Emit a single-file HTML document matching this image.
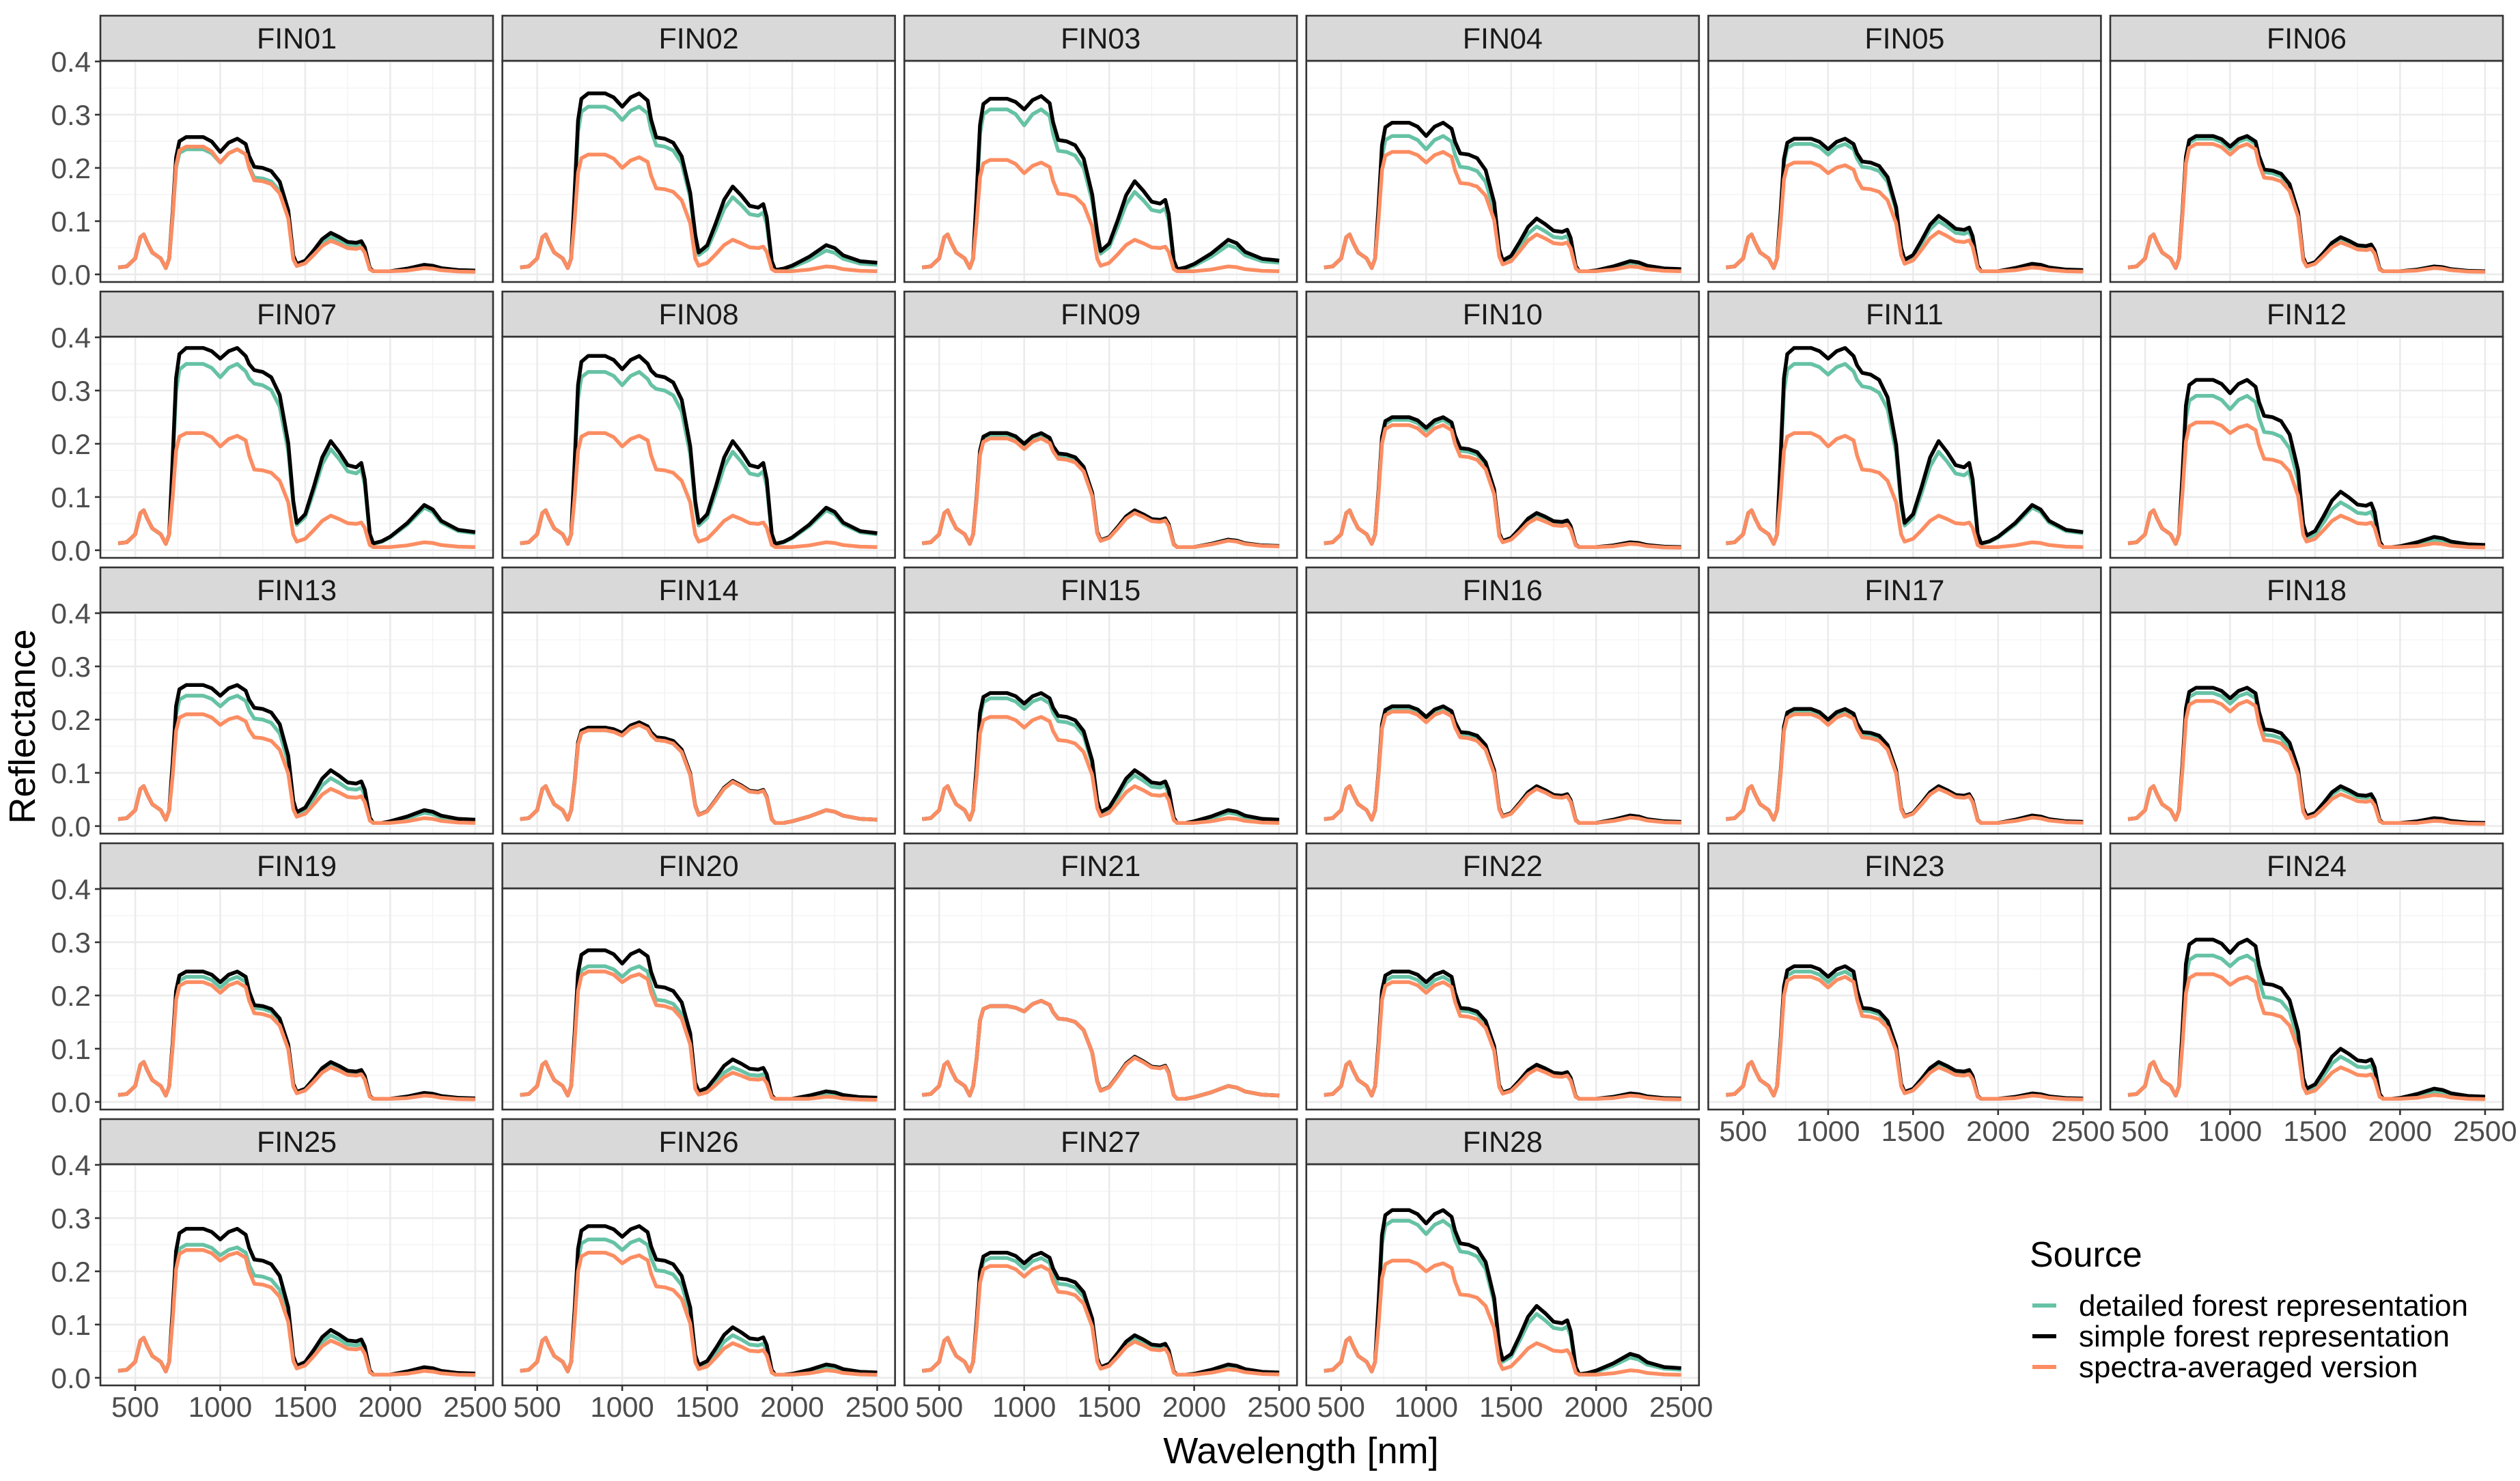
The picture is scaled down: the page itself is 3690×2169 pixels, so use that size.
<!DOCTYPE html>
<html><head><meta charset="utf-8"><style>
html,body{margin:0;padding:0;background:#fff}
svg{display:block;font-family:"Liberation Sans",sans-serif}
</style></head><body>
<svg id="chart" width="3690" height="2169" viewBox="0 0 3690 2169" xmlns="http://www.w3.org/2000/svg"></svg>
<script>
const panelNames = ["FIN01","FIN02","FIN03","FIN04","FIN05","FIN06","FIN07","FIN08","FIN09","FIN10","FIN11","FIN12","FIN13","FIN14","FIN15","FIN16","FIN17","FIN18","FIN19","FIN20","FIN21","FIN22","FIN23","FIN24","FIN25","FIN26","FIN27","FIN28"];
const seriesNames = ["detailed forest representation","simple forest representation","spectra-averaged version"];
const seriesColors = ["#66c2a5","#000000","#fc8d62"];
const xTicks = [500,1000,1500,2000,2500];
const yTicks = [0.0,0.1,0.2,0.3,0.4];
const yTickLabels = ["0.0","0.1","0.2","0.3","0.4"];
// per panel key values: [NIR plateau, NIR dip, NIR 2nd peak, shoulder 1250, SWIR1 peak, SWIR2 peak]
const detailed = [
[.235,.21,.235,.18,.07,.014],[.315,.29,.315,.24,.145,.045],[.31,.28,.31,.23,.155,.055],[.26,.235,.26,.2,.09,.02],
[.245,.225,.245,.2,.1,.018],[.255,.235,.255,.19,.065,.014],[.35,.325,.35,.31,.19,.08],[.335,.31,.335,.3,.185,.075],
[.215,.195,.215,.175,.073,.02],[.245,.225,.245,.185,.065,.014],[.35,.33,.35,.305,.185,.08],[.29,.265,.29,.22,.09,.018],
[.245,.225,.245,.2,.09,.025],[.18,.17,.19,.16,.083,.03],[.24,.22,.24,.195,.095,.025],[.22,.2,.22,.17,.073,.018],
[.215,.195,.215,.17,.072,.018],[.25,.23,.25,.17,.07,.013],[.235,.215,.235,.175,.07,.015],[.255,.235,.255,.19,.065,.015],
[.18,.17,.19,.155,.085,.03],[.235,.215,.235,.17,.067,.014],[.245,.225,.245,.17,.07,.014],[.275,.255,.275,.195,.085,.02],
[.25,.23,.245,.19,.08,.017],[.26,.24,.26,.2,.08,.02],[.225,.205,.225,.175,.075,.02],[.295,.27,.295,.235,.12,.038]];
const simple = [
[.258,.23,.255,.2,.078,.018],[.34,.315,.34,.255,.165,.055],[.33,.31,.335,.25,.175,.065],[.285,.26,.285,.225,.105,.025],
[.255,.235,.255,.21,.11,.02],[.26,.24,.26,.195,.07,.015],[.38,.36,.38,.335,.205,.085],[.365,.34,.365,.325,.205,.08],
[.22,.2,.22,.18,.075,.02],[.25,.23,.25,.19,.07,.015],[.38,.36,.38,.33,.205,.085],[.32,.295,.32,.25,.11,.025],
[.265,.245,.265,.22,.105,.03],[.185,.175,.195,.165,.085,.03],[.25,.23,.25,.205,.105,.03],[.225,.205,.225,.175,.075,.02],
[.22,.2,.22,.175,.075,.02],[.26,.24,.26,.18,.075,.015],[.245,.225,.245,.18,.075,.017],[.285,.26,.285,.215,.08,.02],
[.18,.17,.19,.155,.085,.03],[.245,.225,.245,.175,.07,.016],[.255,.235,.255,.175,.075,.016],[.305,.28,.305,.22,.1,.025],
[.28,.26,.28,.22,.09,.02],[.285,.265,.285,.22,.095,.025],[.235,.215,.235,.185,.08,.025],[.315,.29,.315,.25,.135,.045]];
const averaged = [
[.24,.21,.235,.175,.063,.012],[.225,.2,.22,.16,.065,.015],[.215,.19,.21,.15,.065,.015],[.23,.21,.23,.17,.075,.015],
[.21,.19,.205,.16,.08,.013],[.245,.225,.245,.18,.06,.012],[.22,.195,.215,.15,.065,.015],[.22,.195,.215,.15,.065,.015],
[.21,.19,.21,.17,.07,.018],[.235,.215,.235,.175,.06,.012],[.22,.195,.215,.15,.065,.015],[.24,.22,.235,.17,.065,.013],
[.21,.19,.205,.165,.07,.015],[.18,.17,.19,.16,.083,.03],[.205,.185,.205,.16,.075,.015],[.215,.195,.215,.165,.07,.016],
[.21,.19,.21,.165,.07,.016],[.235,.215,.235,.16,.06,.01],[.225,.205,.225,.165,.065,.012],[.245,.225,.24,.18,.055,.01],
[.18,.17,.19,.155,.083,.03],[.225,.205,.225,.16,.062,.012],[.235,.215,.235,.16,.065,.012],[.24,.22,.235,.165,.065,.013],
[.24,.22,.235,.175,.07,.013],[.235,.215,.23,.17,.065,.014],[.21,.19,.21,.16,.068,.016],[.22,.2,.215,.155,.065,.014]];
const visPeak = 0.075;

const NS="http://www.w3.org/2000/svg";
const svg=document.getElementById('chart');
function mk(tag,attrs,parent){const e=document.createElementNS(NS,tag);for(const k in attrs)e.setAttribute(k,attrs[k]);(parent||svg).appendChild(e);return e;}
const colLeft=147, colPeriod=588.6, pW=575;
const rowTop=23, rowPeriod=404, stripH=66, plotH=324;
const xMin=295, xMax=2605, yMin=-0.0143, yMax=0.4013;

function spectrum(k){
  const [N,D,P,S,M,W]=k, V=visPeak;
  const lo=v=>Math.max(v,0.006);
  return [[400,.013],[450,.015],[500,V*.4],[530,V*.93],[550,V],[570,V*.8],[600,V*.55],[650,V*.4],[680,.012],[700,.03],
  [720,N*.45],[740,N*.85],[760,N*.97],[800,N],[900,N],[950,D+(N-D)*.7],[1000,D],[1050,(D+P)/2+ (P-D)*.2],[1100,P],[1150,P*.96],
  [1170,(P*.96+S)/2],[1200,S*1.01],[1250,S],[1300,S*.97],[1350,S*.87],[1400,S*.6],[1430,M*.45],[1450,M*.25],[1500,M*.33],
  [1550,M*.58],[1600,M*.85],[1650,M],[1700,M*.9],[1750,M*.78],[1800,M*.76],[1830,M*.8],[1850,M*.65],[1880,M*.15],[1900,lo(W*.15)],
  [1950,lo(W*.2)],[2000,lo(W*.3)],[2100,lo(W*.6)],[2200,W],[2250,W*.9],[2300,W*.65],[2400,W*.45],[2500,W*.4]];
}
const allSeries=[detailed,simple,averaged];

for(let i=0;i<panelNames.length;i++){
  const r=Math.floor(i/6), c=i%6;
  const L=colLeft+c*colPeriod, T=rowTop+r*rowPeriod, PT=T+stripH, PB=PT+plotH;
  const sx=v=>L+(v-xMin)/(xMax-xMin)*pW;
  const sy=v=>PB-(v-yMin)/(yMax-yMin)*plotH;
  const g=mk('g',{});
  
  
  for(let t=0.05;t<0.4;t+=0.1){mk('line',{x1:L,x2:L+pW,y1:sy(t),y2:sy(t),stroke:'#f2f2f2','stroke-width':1.3},g);}
  for(let t=750;t<=2250;t+=500){mk('line',{x1:sx(t),x2:sx(t),y1:PT,y2:PB,stroke:'#f2f2f2','stroke-width':1.3},g);}
  yTicks.forEach(t=>mk('line',{x1:L,x2:L+pW,y1:sy(t),y2:sy(t),stroke:'#ebebeb','stroke-width':2.6},g));
  xTicks.forEach(t=>mk('line',{x1:sx(t),x2:sx(t),y1:PT,y2:PB,stroke:'#ebebeb','stroke-width':2.6},g));
  allSeries.forEach((ser,s)=>{
    const pts=spectrum(ser[i]).map(p=>sx(p[0]).toFixed(1)+','+sy(p[1]).toFixed(1)).join(' ');
    const pl=mk('polyline',{points:pts,fill:'none',stroke:seriesColors[s],'stroke-width':5.5,'stroke-linejoin':'round'},g);
    
    
  });
  mk('rect',{x:L,y:PT,width:pW,height:plotH,fill:'none',stroke:'#333','stroke-width':2.6},g);
  const st=mk('rect',{x:L,y:T,width:pW,height:stripH,fill:'#d9d9d9',stroke:'#333','stroke-width':2.6},g);
  
  
  const tt=mk('text',{x:L+pW/2,y:T+48,'text-anchor':'middle','font-size':43,fill:'#1a1a1a'},g);
  tt.textContent=panelNames[i];
  
  
  if(c===0){
    yTicks.forEach((t,j)=>{
      mk('line',{x1:L-8,x2:L,y1:sy(t),y2:sy(t),stroke:'#333','stroke-width':2.6},g);
      const yl=mk('text',{x:L-14,y:sy(t)+15,'text-anchor':'end','font-size':42,fill:'#4d4d4d'},g);
      yl.textContent=yTickLabels[j];
      
      
    });
  }
  if(r===4 || (r===3 && c>=4)){
    xTicks.forEach(t=>{
      mk('line',{x1:sx(t),x2:sx(t),y1:PB,y2:PB+8,stroke:'#333','stroke-width':2.6},g);
      const xl=mk('text',{x:sx(t),y:PB+46,'text-anchor':'middle','font-size':42,fill:'#4d4d4d'},g);
      xl.textContent=String(t);
      
      
    });
  }
}
const xt=mk('text',{x:1905,y:2143,'text-anchor':'middle','font-size':54,fill:'#000'});
xt.textContent='Wavelength [nm]';


const yt=mk('text',{x:0,y:0,transform:'translate(51,1064) rotate(-90)','text-anchor':'middle','font-size':54,fill:'#000'});
yt.textContent='Reflectance';


const lg=mk('g',{});


const lt=mk('text',{x:2972,y:1855,'font-size':52,fill:'#000'},lg);
lt.textContent='Source';


const legY=[1912,1957,2002];
seriesNames.forEach((n,s)=>{
  const e=mk('g',{},lg);
  
  
  mk('line',{x1:2976,x2:3011,y1:legY[s],y2:legY[s],stroke:seriesColors[s],'stroke-width':6},e);
  const t=mk('text',{x:3044,y:legY[s]+15,'font-size':44,fill:'#000'},e);
  t.textContent=n;
});
</script>
</body></html>
